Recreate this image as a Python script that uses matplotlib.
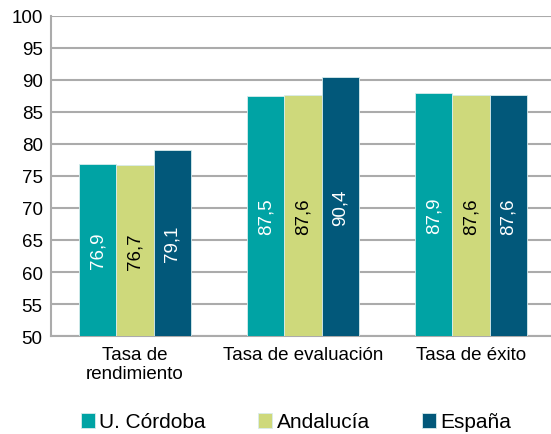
import numpy as np
from matplotlib import pyplot as plt

plt.rcParams['font.family'] = ['Liberation Sans', 'DejaVu Sans']

categories = ['Tasa de\nrendimiento', 'Tasa de evaluación', 'Tasa de éxito']
series_names = ['U. Córdoba', 'Andalucía', 'España']
cordoba = [76.9, 87.5, 87.9]
andalucia = [76.7, 87.6, 87.6]
espana = [79.1, 90.4, 87.6]
colors = ['#00A3A4', '#CED97B', '#02587A']
label_colors = ['white', 'black', 'white']

fig = plt.figure(figsize=(5.51, 4.35), dpi=100)
ax = fig.add_axes([51 / 551, 1 - 337 / 435, 504 / 551, 320 / 435])

x = np.arange(len(categories))
width = 0.222
for i, (name, vals) in enumerate(zip(series_names, [cordoba, andalucia, espana])):
    pos = x + (i - 1) * width
    bars = ax.bar(pos, vals, width, color=colors[i], label=name,
                  edgecolor='#d8ecec', linewidth=0.6, zorder=3)
    for b, v in zip(bars, vals):
        ax.text(b.get_x() + b.get_width() / 2, (50 + v) / 2,
                ('%.1f' % v).replace('.', ','), rotation=90,
                ha='center', va='center', color=label_colors[i],
                fontsize=13.5, zorder=4)

ax.set_ylim(50, 100)
ax.set_xlim(-0.5, 2.5)
ax.set_yticks(range(50, 101, 5))
ax.set_xticks(x)
ax.set_xticklabels(categories)
ax.yaxis.grid(True, color='#ABABAB', linewidth=1.5, zorder=0)
for s in ['top', 'right']:
    ax.spines[s].set_visible(False)
ax.spines['left'].set_color('#ABABAB')
ax.spines['left'].set_linewidth(1.5)
ax.spines['bottom'].set_color('#ABABAB')
ax.spines['bottom'].set_linewidth(1.5)
ax.tick_params(axis='both', length=0, labelsize=13.5, colors='black')
ax.tick_params(axis='x', pad=7)
ax.tick_params(axis='y', pad=6)

fig.legend(loc='center', ncol=3, bbox_to_anchor=(296 / 551, 1 - 423 / 435),
           frameon=False, fontsize=15, handlelength=0.7, handleheight=0.7,
           handletextpad=0.2, columnspacing=2.5)

fig.savefig('out.png', dpi=100)
